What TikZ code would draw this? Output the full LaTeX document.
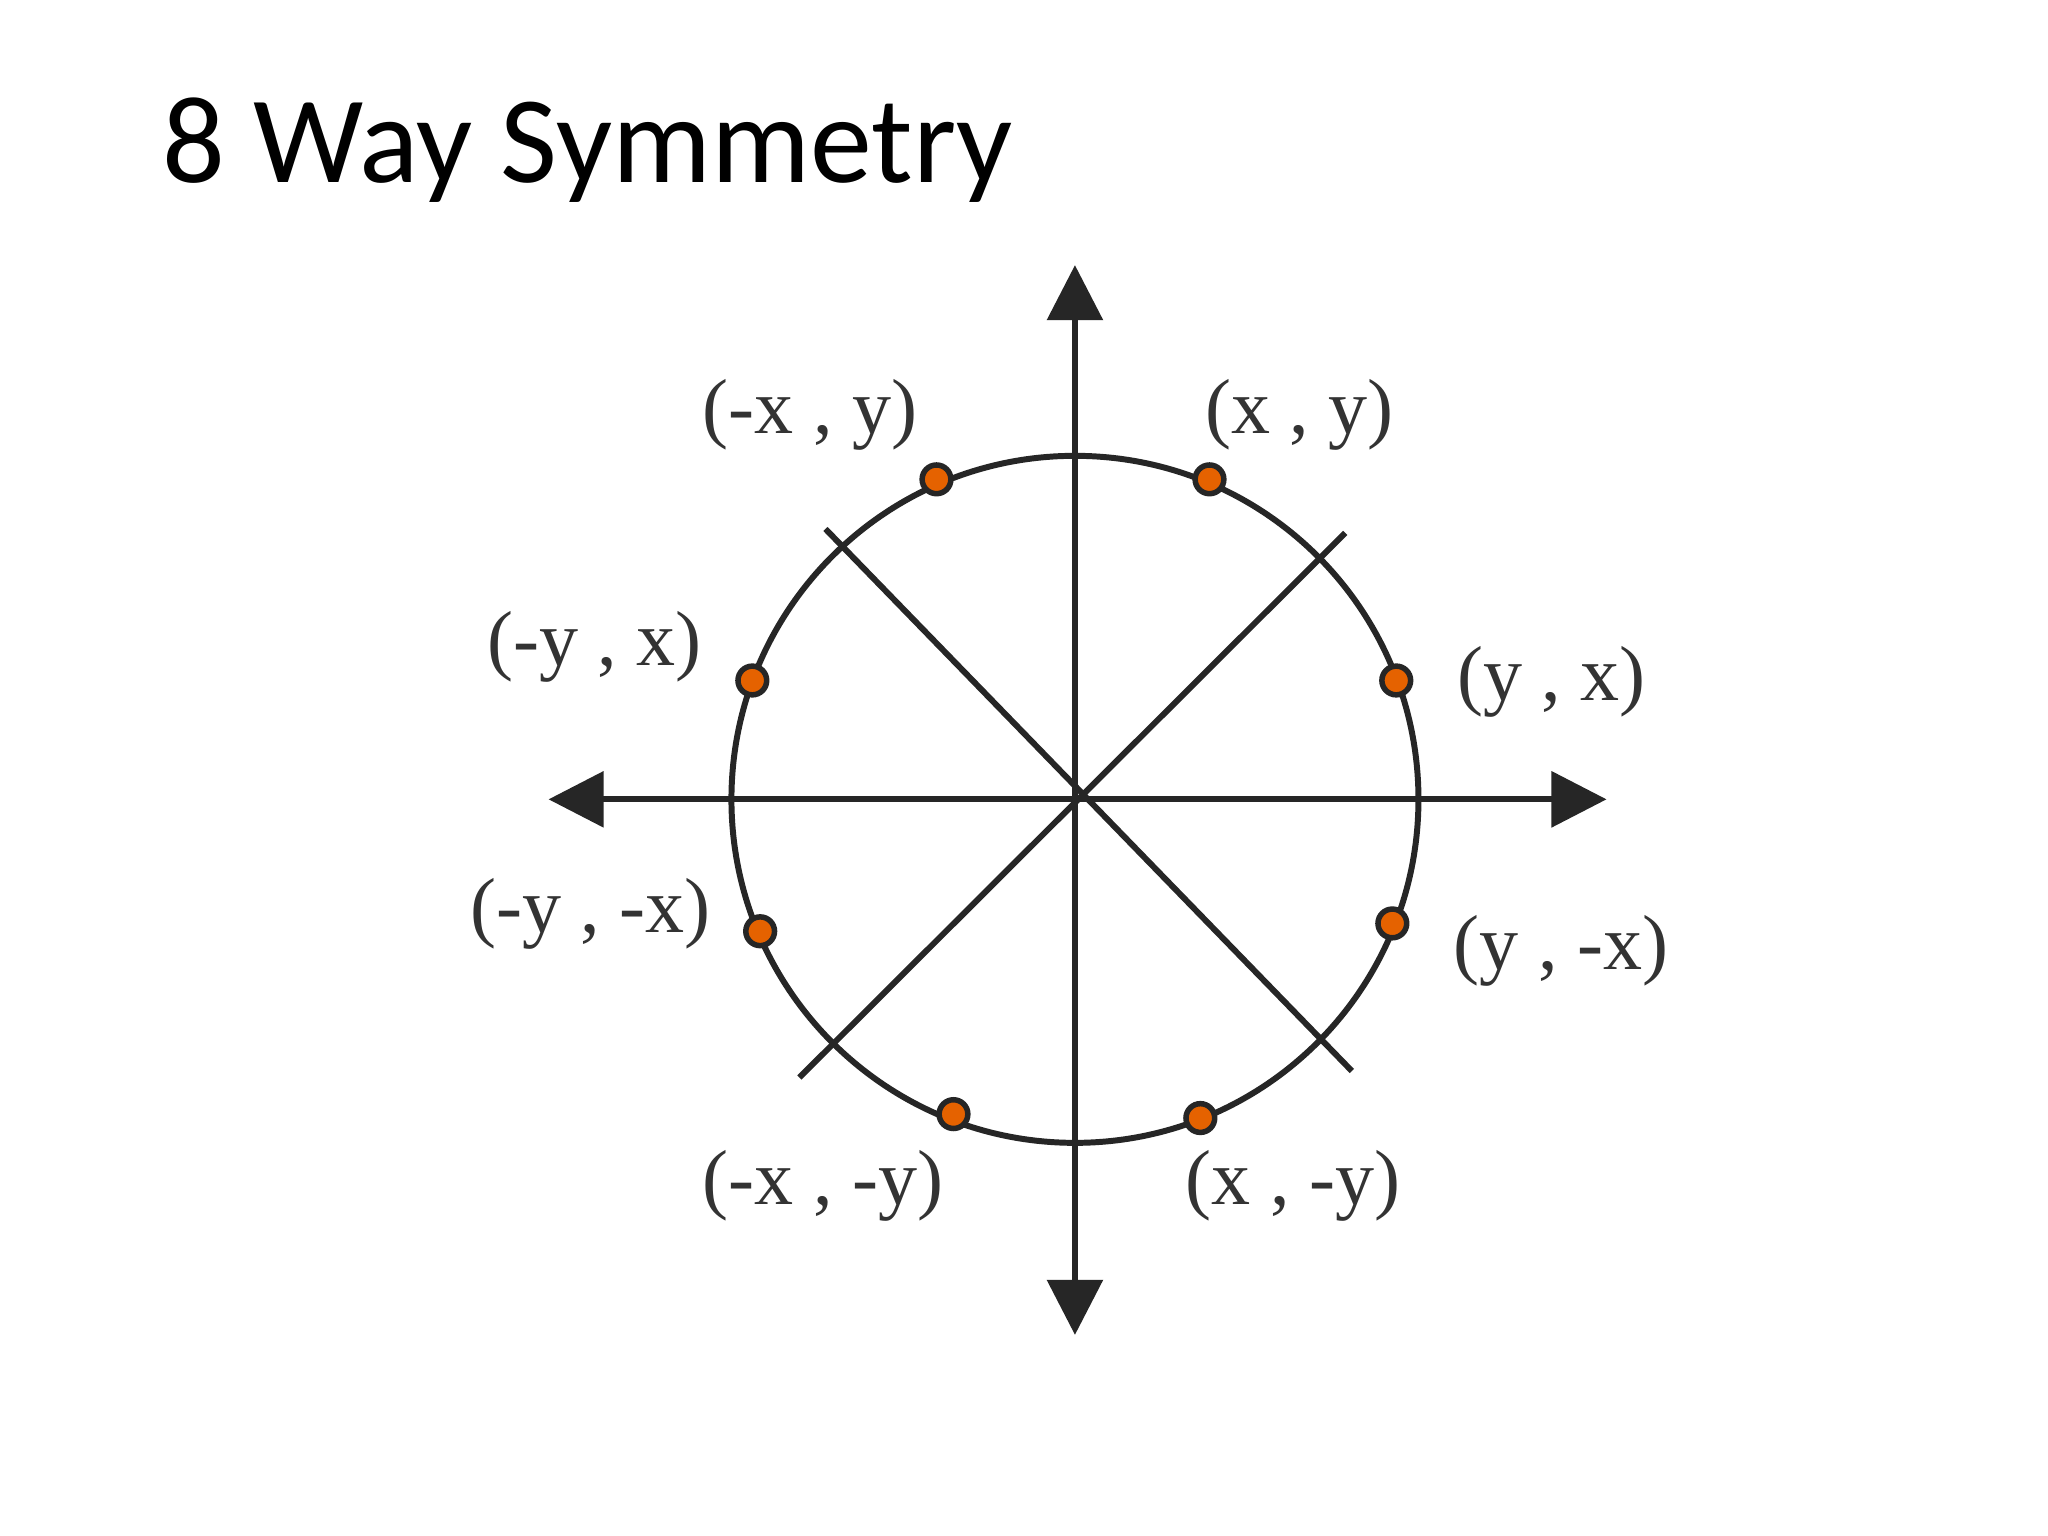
\documentclass[tikz,border=0pt]{standalone}
\usepackage{fontspec}
\setmainfont{Liberation Serif}
\newfontfamily\titlefont{Carlito}
\usetikzlibrary{arrows.meta}
\begin{document}
\begin{tikzpicture}[x=1cm,y=-1cm,
  ln/.style={line width=1.3pt,draw=black!85},
  ax/.style={ln,-{Triangle[length=12pt,width=12pt]}},
  pt/.style={circle,draw=black!85,line width=1.2pt,fill=orange!85!red!90!black,inner sep=0pt,minimum size=0.22cm},
  lab/.style={font=\fontsize{17}{20}\selectfont,text=black!80}]
\useasboundingbox[fill=white] (0,0) rectangle (15.68,11.76);
\node[anchor=base west,font=\titlefont\fontsize{27}{32}\selectfont,inner sep=0] (title) at (1.24,1.40) {8 Way Symmetry};
\coordinate (o) at (8.23,6.12);
\draw[ln] (o) circle (2.63);
\coordinate (l) at (4.20,6.12); \coordinate (r) at (12.30,6.12);
\coordinate (t) at (8.23,2.03); \coordinate (b) at (8.23,10.22);
\draw[ax] (o) -- (l); \draw[ax] (o) -- (r);
\draw[ax] (o) -- (t); \draw[ax] (o) -- (b);
\coordinate (d1) at (6.12,8.25); \coordinate (d2) at (10.30,4.08);
\coordinate (d3) at (6.32,4.05); \coordinate (d4) at (10.35,8.20);
\draw[ln] (d1) -- (d2); \draw[ln] (d3) -- (d4);
\node[pt] (p1) at (7.17,3.67) {};
\node[pt] (p2) at (9.26,3.67) {};
\node[pt] (p3) at (10.69,5.21) {};
\node[pt] (p4) at (10.66,7.07) {};
\node[pt] (p5) at (9.19,8.56) {};
\node[pt] (p6) at (7.30,8.53) {};
\node[pt] (p7) at (5.82,7.13) {};
\node[pt] (p8) at (5.76,5.21) {};
\node[lab] (l1) at (6.20,3.18) {(-x , y)};
\node[lab] (l2) at (9.95,3.18) {(x , y)};
\node[lab] (l8) at (4.55,4.95) {(-y , x)};
\node[lab] (l3) at (11.88,5.22) {(y , x)};
\node[lab] (l7) at (4.52,7.00) {(-y , -x)};
\node[lab] (l4) at (11.95,7.28) {(y , -x)};
\node[lab] (l6) at (6.30,9.08) {(-x , -y)};
\node[lab] (l5) at (9.90,9.08) {(x , -y)};
\end{tikzpicture}
\end{document}
